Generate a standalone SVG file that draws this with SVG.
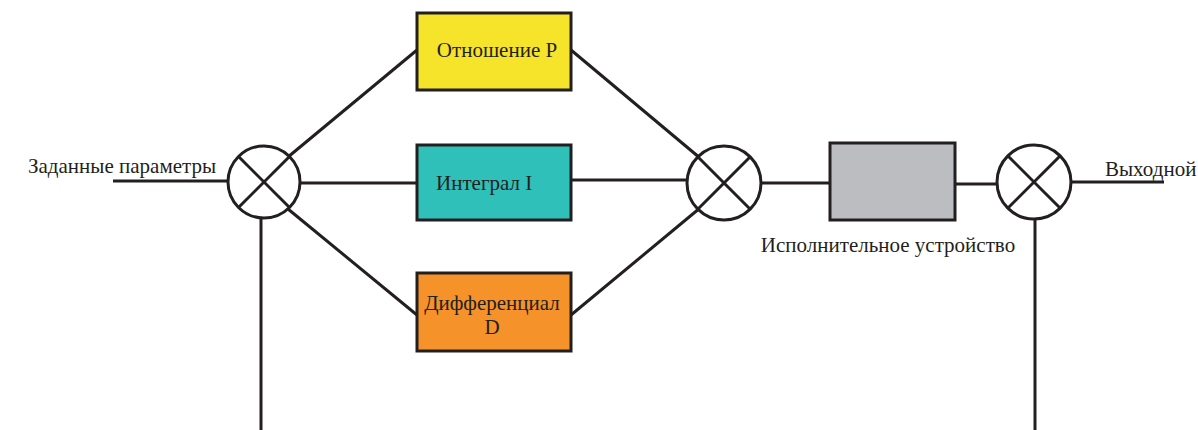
<svg xmlns="http://www.w3.org/2000/svg" width="1198" height="430" viewBox="0 0 1198 430">
<style>
.ln{stroke:#231f20;stroke-width:3;fill:none}
.sum{stroke:#231f20;stroke-width:3;fill:#fff}
.box{stroke:#231f20;stroke-width:3}
.t{font-family:"Liberation Serif","Times New Roman",serif;font-size:21px;fill:#231f20}
</style>
<rect width="1198" height="430" fill="#fff"/>
<g id="connectors">
<line class="ln" x1="113" y1="181" x2="228" y2="181"/>
<line class="ln" x1="261" y1="218" x2="261" y2="430"/>
<line class="ln" x1="288" y1="157" x2="417" y2="50"/>
<line class="ln" x1="300" y1="183" x2="417" y2="183"/>
<line class="ln" x1="288" y1="209" x2="417" y2="315"/>
<line class="ln" x1="571" y1="50" x2="700" y2="158"/>
<line class="ln" x1="571" y1="180" x2="687" y2="180"/>
<line class="ln" x1="571" y1="315" x2="700" y2="208"/>
<line class="ln" x1="761" y1="183" x2="830" y2="183"/>
<line class="ln" x1="955" y1="184" x2="997" y2="184"/>
<line class="ln" x1="1071" y1="182" x2="1164" y2="182"/>
<line class="ln" x1="1035" y1="219" x2="1035" y2="430"/>
</g>
<g id="sum1">
<circle class="sum" cx="264" cy="182" r="36"/>
<line class="ln" x1="238.5" y1="156.5" x2="289.5" y2="207.5"/>
<line class="ln" x1="289.5" y1="156.5" x2="238.5" y2="207.5"/>
</g>
<g id="sum2">
<circle class="sum" cx="724" cy="183" r="37"/>
<line class="ln" x1="698" y1="157" x2="750" y2="209"/>
<line class="ln" x1="750" y1="157" x2="698" y2="209"/>
</g>
<g id="sum3">
<circle class="sum" cx="1034" cy="182" r="37"/>
<line class="ln" x1="1008" y1="156" x2="1060" y2="208"/>
<line class="ln" x1="1060" y1="156" x2="1008" y2="208"/>
</g>
<g id="p">
<rect class="box" x="417" y="13" width="154" height="77" fill="#f6e42a"/>
<text class="t" x="497" y="57" text-anchor="middle">Отношение P</text>
</g>
<g id="i">
<rect class="box" x="417" y="145" width="154" height="75" fill="#2fc0b9"/>
<text class="t" x="436" y="190">Интеграл I</text>
</g>
<g id="d">
<rect class="box" x="417" y="273" width="154" height="78" fill="#f5922a"/>
<text class="t" x="492" y="310" text-anchor="middle">Дифференциал</text>
<text class="t" x="492" y="334" text-anchor="middle">D</text>
</g>
<g id="actuator">
<rect class="box" x="830" y="143" width="125" height="77" fill="#bcbdc0"/>
<text class="t" x="888" y="252" text-anchor="middle">Исполнительное устройство</text>
</g>
<g id="labels">
<text class="t" x="28" y="173">Заданные параметры</text>
<text class="t" x="1105" y="176">Выходной</text>
</g>
</svg>
